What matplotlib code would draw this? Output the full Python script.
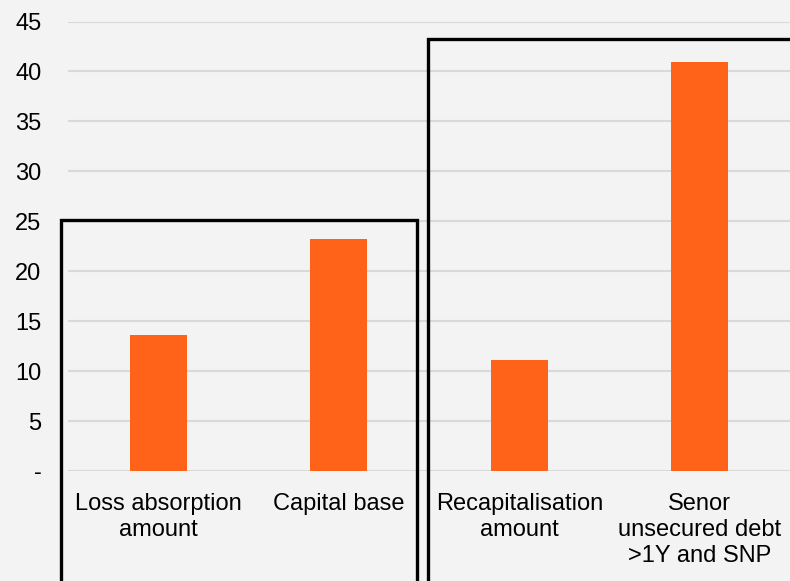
import matplotlib
matplotlib.use("Agg")
import matplotlib.pyplot as plt
from matplotlib.patches import Polygon

categories = ["Loss absorption\namount", "Capital base", "Recapitalisation\namount",
              "Senor\nunsecured debt\n>1Y and SNP"]
values = [13.6, 23.2, 11.1, 40.9]
yticks = [0, 5, 10, 15, 20, 25, 30, 35, 40, 45]
ytick_labels = ["-", "5", "10", "15", "20", "25", "30", "35", "40", "45"]

BG = "#f3f3f3"
BAR = "#ff631a"
GRID = "#d9d9d9"

plt.rcParams['font.family'] = ['Liberation Sans', 'DejaVu Sans']

fig = plt.figure(figsize=(7.9, 5.81), dpi=100, facecolor=BG)
ax = fig.add_axes([68/790, (581-471)/581, (790-68)/790, (471-21.5)/581])
ax.set_facecolor(BG)

x = list(range(len(categories)))
ax.bar(x, values, width=0.315, color=BAR, zorder=3)
ax.set_xlim(-0.5, len(categories) - 0.5)
ax.set_ylim(0, 45)
ax.set_yticks(yticks)
ax.set_yticklabels(ytick_labels)
ax.set_xticks(x)
ax.set_xticklabels(categories, linespacing=1.22)
ax.tick_params(axis='both', length=0, labelsize=17, colors='black')
ax.tick_params(axis='y', pad=19)
ax.tick_params(axis='x', pad=16)
for s in ax.spines.values():
    s.set_visible(False)
ax.grid(axis='y', color=GRID, linewidth=1.5, zorder=0)
ax.set_axisbelow(True)

# grouping boxes (open at bottom, extend beyond figure)
box1 = [(-0.539, -13), (-0.539, 25.1), (1.432, 25.1), (1.432, -13)]
box2 = [(1.496, -13), (1.496, 43.2), (3.52, 43.2), (3.52, -13)]
for pts in (box1, box2):
    p = Polygon(pts, closed=False, fill=False, edgecolor='black', linewidth=2.4,
                clip_on=False, zorder=5, joinstyle='miter')
    ax.add_patch(p)

fig.savefig("out.png", dpi=100, facecolor=BG)
